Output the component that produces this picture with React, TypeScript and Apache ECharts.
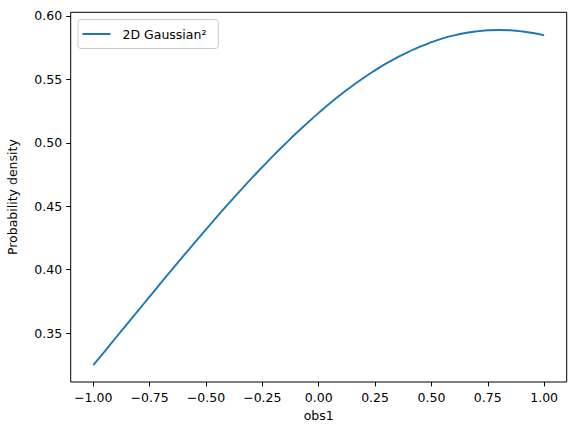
import React, { useEffect, useRef } from "react";
import * as echarts from "echarts";

const xValues = [
  -1.0, -0.95, -0.9, -0.85, -0.8, -0.75, -0.7, -0.65, -0.6, -0.55, -0.5,
  -0.45, -0.4, -0.35, -0.3, -0.25, -0.2, -0.15, -0.1, -0.05, 0.0,
  0.05, 0.1, 0.15, 0.2, 0.25, 0.3, 0.35, 0.4, 0.45, 0.5,
  0.55, 0.6, 0.65, 0.7, 0.75, 0.8, 0.85, 0.9, 0.95, 1.0,
];
const densityValues = [
  0.3247, 0.3354, 0.3463, 0.3571, 0.3679, 0.3787, 0.3895, 0.4002, 0.4108, 0.4213, 0.4317,
  0.442, 0.452, 0.4619, 0.4716, 0.4809, 0.4901, 0.4989, 0.5075, 0.5157, 0.5236,
  0.5312, 0.5383, 0.545, 0.5513, 0.5571, 0.5626, 0.5675, 0.5719, 0.5759, 0.5793,
  0.5823, 0.5847, 0.5866, 0.5879, 0.5887, 0.589, 0.5887, 0.5879, 0.5866, 0.5847,
];
const xTicks = [-1.0, -0.75, -0.5, -0.25, 0.0, 0.25, 0.5, 0.75, 1.0];
const yTicks = [0.35, 0.4, 0.45, 0.5, 0.55, 0.6];
const seriesName = "2D Gaussian\u00b2";

const fmt = (v: number) => {
  const s = Math.abs(v).toFixed(2);
  return v < -1e-9 ? "\u2212" + s : s;
};

export default function App() {
  const ref = useRef<HTMLDivElement>(null);
  useEffect(() => {
    if (!ref.current) return;
    const chart = echarts.init(ref.current, null, { renderer: "svg" });
    const font = "DejaVu Sans";
    chart.setOption({
      animation: false,
      backgroundColor: "#ffffff",
      textStyle: { fontFamily: font },
      grid: {
        left: 70.7,
        right: 9.3,
        top: 12.3,
        bottom: 53,
        outerBoundsMode: "none",
        containLabel: false,
        show: true,
        borderColor: "#000000",
        borderWidth: 1,
        backgroundColor: "transparent",
      },
      legend: {
        left: 78,
        top: 19.5,
        orient: "vertical",
        data: [{ name: seriesName, icon: "rect" }],
        itemWidth: 28,
        itemHeight: 2,
        padding: [8, 12, 8, 4.5],
        borderColor: "#cccccc",
        borderWidth: 1,
        borderRadius: 3,
        backgroundColor: "rgba(255,255,255,0.8)",
        textStyle: {
          fontFamily: font,
          fontSize: 12.5,
          color: "#000000",
          padding: [0, 0, 0, 7],
        },
      },
      xAxis: {
        type: "value",
        min: -1.1,
        max: 1.1,
        name: "obs1",
        nameLocation: "middle",
        nameGap: 25.5,
        nameTextStyle: { fontFamily: font, fontSize: 12.5, color: "#000", verticalAlign: "top" },
        axisLine: { show: false, onZero: false },
        splitLine: { show: false },
        axisTick: {
          show: true,
          length: 4.4,
          customValues: xTicks,
          lineStyle: { color: "#000", width: 1 },
        },
        axisLabel: {
          customValues: xTicks,
          formatter: (v: number) => fmt(v),
          fontFamily: font,
          fontSize: 12.5,
          color: "#000",
          margin: 9,
        },
      },
      yAxis: {
        type: "value",
        min: 0.3114,
        max: 0.6029,
        name: "Probability density",
        nameLocation: "middle",
        nameGap: 52,
        nameRotate: 90,
        nameTextStyle: { fontFamily: font, fontSize: 12.5, color: "#000" },
        axisLine: { show: false, onZero: false },
        splitLine: { show: false },
        axisTick: {
          show: true,
          length: 4.4,
          customValues: yTicks,
          lineStyle: { color: "#000", width: 1 },
        },
        axisLabel: {
          customValues: yTicks,
          formatter: (v: number) => v.toFixed(2),
          fontFamily: font,
          fontSize: 12.5,
          color: "#000",
          margin: 8.5,
        },
      },
      series: [
        {
          name: seriesName,
          type: "line",
          data: xValues.map((x, i) => [x, densityValues[i]]),
          showSymbol: false,
          smooth: true,
          lineStyle: { color: "#1f77b4", width: 1.9 },
          itemStyle: { color: "#1f77b4" },
        },
      ],
    });
    return () => chart.dispose();
  }, []);
  return (
    <div
      ref={ref}
      style={{ position: "fixed", left: 0, top: 0, width: 576, height: 435 }}
    />
  );
}
